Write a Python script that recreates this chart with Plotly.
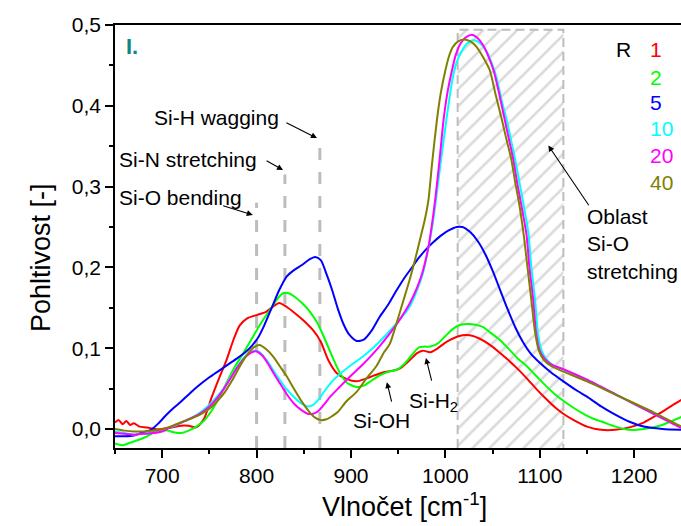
import plotly.graph_objects as go

# ---- IR absorbance spectra, one per ratio R ----
wn_r1 = [650, 654, 658, 662, 666, 670, 676, 684, 692, 700, 710, 720, 728, 736, 744, 752, 760, 768, 776,
         782, 790, 800, 810, 818, 824, 832, 840, 850, 860, 868, 876, 885, 895, 906, 915, 924, 934, 944,
         952, 962, 970, 976, 984, 992, 1000, 1008, 1018, 1026, 1036, 1046, 1056, 1066, 1076, 1086, 1096,
         1106, 1116, 1126, 1136, 1150, 1165, 1180, 1195, 1210, 1225, 1240, 1250]
abs_r1 = [0.008, 0.011, 0.006, 0.010, 0.005, 0.007, 0.003, 0.002, 0.000, 0.000, 0.002, 0.004, 0.004,
          0.002, 0.012, 0.038, 0.062, 0.085, 0.112, 0.128, 0.137, 0.141, 0.145, 0.152, 0.156, 0.151,
          0.144, 0.134, 0.122, 0.108, 0.085, 0.069, 0.062, 0.059, 0.062, 0.066, 0.070, 0.072, 0.075,
          0.085, 0.094, 0.097, 0.095, 0.100, 0.107, 0.112, 0.116, 0.116, 0.112, 0.105, 0.096, 0.086,
          0.075, 0.063, 0.050, 0.038, 0.027, 0.018, 0.011, 0.003, -0.001, -0.001, 0.002, 0.008, 0.018,
          0.029, 0.036]

wn_r2 = [650, 658, 666, 676, 684, 692, 700, 706, 712, 720, 728, 736, 744, 752, 760, 768, 776, 786, 794,
         800, 808, 814, 820, 828, 834, 840, 848, 856, 864, 872, 880, 888, 896, 906, 914, 922, 930, 940,
         948, 956, 964, 972, 978, 984, 992, 1000, 1008, 1016, 1024, 1032, 1040, 1048, 1058, 1068, 1076,
         1086, 1096, 1106, 1116, 1126, 1136, 1146, 1156, 1166, 1180, 1195, 1210, 1227, 1240, 1250]
abs_r2 = [-0.018, -0.020, -0.017, -0.013, -0.009, -0.004, -0.002, -0.002, -0.004, -0.005, -0.002,
          0.003, 0.010, 0.022, 0.038, 0.057, 0.075, 0.094, 0.110, 0.122, 0.137, 0.147, 0.158, 0.168,
          0.168, 0.164, 0.156, 0.146, 0.132, 0.112, 0.090, 0.070, 0.057, 0.052, 0.054, 0.060, 0.066,
          0.071, 0.073, 0.080, 0.091, 0.101, 0.102, 0.102, 0.106, 0.115, 0.124, 0.129, 0.130, 0.129,
          0.126, 0.119, 0.110, 0.098, 0.088, 0.078, 0.066, 0.054, 0.043, 0.034, 0.026, 0.019, 0.013,
          0.009, 0.003, -0.001, 0.000, 0.004, 0.010, 0.015]

wn_r5 = [650, 660, 670, 680, 688, 696, 704, 712, 720, 730, 740, 750, 760, 770, 780, 788, 795, 802,
         808, 816, 824, 832, 840, 848, 856, 862, 868, 874, 880, 886, 892, 898, 906, 914, 922, 930, 940,
         948, 956, 964, 972, 980, 988, 996, 1004, 1012, 1018, 1026, 1034, 1042, 1050, 1058, 1066, 1074,
         1082, 1090, 1100, 1112, 1125, 1140, 1150, 1165, 1178, 1195, 1210, 1230, 1250]
abs_r5 = [-0.009, -0.009, -0.008, -0.004, -0.001, 0.007, 0.017, 0.026, 0.034, 0.045, 0.055, 0.064,
          0.072, 0.080, 0.088, 0.095, 0.103, 0.114, 0.128, 0.150, 0.172, 0.189, 0.197, 0.203,
          0.210, 0.213, 0.209, 0.192, 0.172, 0.149, 0.130, 0.117, 0.109, 0.111, 0.122, 0.138, 0.155,
          0.171, 0.186, 0.199, 0.212, 0.223, 0.232, 0.240, 0.246, 0.250, 0.250, 0.244, 0.233, 0.217,
          0.196, 0.172, 0.148, 0.126, 0.108, 0.094, 0.082, 0.070, 0.059, 0.047, 0.040, 0.028, 0.019,
          0.009, 0.003, 0.000, -0.001]

wn_r10 = [650, 660, 670, 680, 690, 698, 706, 715, 724, 733, 742, 750, 758, 765, 772, 780, 788, 795, 800,
          806, 812, 818, 825, 832, 840, 848, 854, 860, 866, 872, 880, 890, 900, 913, 925, 940, 952, 962,
          970, 976, 981, 986, 990, 995, 1001, 1005, 1008, 1012, 1017, 1023, 1030, 1037, 1044, 1050, 1054,
          1060, 1065, 1070, 1074, 1078, 1082, 1088, 1091, 1095, 1098, 1102, 1106, 1114, 1125, 1150, 1185,
          1220, 1250]
abs_r10 = [-0.003, -0.005, -0.007, -0.006, -0.004, -0.003, 0.001, 0.005, 0.010, 0.015, 0.022, 0.030,
           0.040, 0.050, 0.063, 0.078, 0.090, 0.096, 0.097, 0.092, 0.083, 0.072, 0.060, 0.049, 0.039,
           0.031, 0.028, 0.030, 0.037, 0.047, 0.059, 0.070, 0.079, 0.090, 0.102, 0.120, 0.136, 0.151,
           0.172, 0.192, 0.218, 0.250, 0.283, 0.330, 0.382, 0.415, 0.436, 0.454, 0.467, 0.477, 0.481,
           0.477, 0.467, 0.450, 0.436, 0.405, 0.382, 0.355, 0.333, 0.308, 0.283, 0.242, 0.201, 0.160,
           0.119, 0.097, 0.088, 0.079, 0.0735, 0.061, 0.040, 0.019, 0.002]

wn_r20 = [650, 660, 670, 680, 690, 700, 710, 720, 730, 740, 750, 758, 765, 772, 780, 788, 795, 800, 806,
          812, 818, 825, 832, 840, 848, 854, 860, 866, 872, 878, 888, 899, 910, 920, 930, 941, 952, 962,
          970, 976, 982, 986, 990, 994, 998, 1002, 1007, 1011, 1016, 1022, 1028, 1034, 1040, 1046, 1051,
          1057, 1063, 1068, 1072, 1076, 1080, 1086, 1089, 1093, 1096, 1100, 1105, 1112, 1125, 1150, 1185,
          1220, 1250]
abs_r20 = [-0.005, -0.006, -0.007, -0.006, -0.005, -0.003, 0.003, 0.008, 0.013, 0.019, 0.028, 0.038,
           0.049, 0.062, 0.077, 0.089, 0.095, 0.096, 0.091, 0.081, 0.069, 0.056, 0.043, 0.031, 0.023,
           0.019, 0.019, 0.023, 0.031, 0.040, 0.052, 0.065, 0.077, 0.089, 0.102, 0.118, 0.136, 0.155,
           0.175, 0.195, 0.225, 0.255, 0.292, 0.335, 0.382, 0.415, 0.444, 0.463, 0.477, 0.485, 0.488,
           0.484, 0.475, 0.460, 0.444, 0.415, 0.382, 0.355, 0.333, 0.305, 0.280, 0.240, 0.200, 0.160,
           0.120, 0.097, 0.087, 0.080, 0.074, 0.061, 0.040, 0.019, 0.001]

wn_r40 = [650, 660, 670, 680, 690, 698, 706, 715, 724, 733, 742, 750, 758, 766, 774, 782, 790, 797, 803,
          810, 818, 825, 832, 840, 849, 856, 862, 868, 874, 880, 886, 895, 906, 916, 927, 935, 941, 948,
          955, 962, 968, 973, 978, 982, 986, 991, 995, 1000, 1004, 1008, 1014, 1020, 1026, 1033, 1040,
          1047, 1053, 1060, 1065, 1070, 1074, 1078, 1083, 1087, 1091, 1095, 1099, 1104, 1112, 1125, 1150,
          1185, 1220, 1250]
abs_r40 = [0.000, -0.002, -0.003, -0.003, -0.002, -0.001, 0.002, 0.006, 0.010, 0.014, 0.019, 0.025,
           0.034, 0.045, 0.060, 0.077, 0.092, 0.101, 0.104, 0.099, 0.089, 0.077, 0.065, 0.049, 0.032,
           0.021, 0.014, 0.011, 0.012, 0.016, 0.021, 0.034, 0.046, 0.062, 0.078, 0.095, 0.105, 0.130,
           0.157, 0.184, 0.210, 0.234, 0.258, 0.283, 0.330, 0.382, 0.415, 0.444, 0.462, 0.473, 0.480,
           0.482, 0.480, 0.473, 0.460, 0.444, 0.415, 0.382, 0.357, 0.333, 0.305, 0.280, 0.240, 0.200,
           0.160, 0.120, 0.097, 0.086, 0.078, 0.071, 0.059, 0.040, 0.021, 0.003]

series_names = ["1", "2", "5", "10", "20", "40"]
series_colors = ["#ff0000", "#00ff00", "#0000ff", "#00ffff", "#ff00ff", "#808000"]
series_wn = [wn_r1, wn_r2, wn_r5, wn_r10, wn_r20, wn_r40]
series_abs = [abs_r1, abs_r2, abs_r5, abs_r10, abs_r20, abs_r40]

# ---- axes ----
x_range = [650, 1249.6]
y_range = [-0.0235, 0.5]
x_tick_vals = [700, 800, 900, 1000, 1100, 1200]
x_minor_vals = [650, 750, 850, 950, 1050, 1150, 1250]
y_tick_vals = [0.0, 0.1, 0.2, 0.3, 0.4, 0.5]
y_tick_text = ["0,0", "0,1", "0,2", "0,3", "0,4", "0,5"]
y_minor_vals = [0.05, 0.15, 0.25, 0.35, 0.45]

# ---- band markers ----
band_positions = [800, 830, 867]
band_tops = [0.28, 0.315, 0.35]
stretch_lo, stretch_hi, stretch_top = 1013, 1125, 0.494

FONT = "Liberation Sans, Arial, sans-serif"
GREY = "#bdbdbd"

fig = go.Figure()

# hatched Si-O stretching region
fig.add_trace(go.Scatter(
    x=[stretch_lo, stretch_lo, stretch_hi, stretch_hi, stretch_lo],
    y=[y_range[0], stretch_top, stretch_top, y_range[0], y_range[0]],
    fill="toself", mode="none", fillcolor="rgba(0,0,0,0)",
    fillpattern=dict(shape="/", fgcolor="#b3b3b3", bgcolor="rgba(0,0,0,0)",
                     size=12, solidity=0.22, fillmode="overlay"),
    hoverinfo="skip", showlegend=False))
fig.add_trace(go.Scatter(
    x=[stretch_lo, stretch_lo, stretch_hi, stretch_hi],
    y=[y_range[0], stretch_top, stretch_top, y_range[0]],
    mode="lines", line=dict(color=GREY, width=2, dash="9px,5px"),
    hoverinfo="skip", showlegend=False))

# dashed band positions
for pos, top in zip(band_positions, band_tops):
    fig.add_trace(go.Scatter(
        x=[pos, pos], y=[y_range[0], top], mode="lines",
        line=dict(color=GREY, width=3, dash="12px,12px"),
        hoverinfo="skip", showlegend=False))

# spectra
for name, color, wn, ab in zip(series_names, series_colors, series_wn, series_abs):
    fig.add_trace(go.Scatter(
        x=wn, y=ab, mode="lines", name=name,
        line=dict(color=color, width=2, shape="spline", smoothing=0.7),
        showlegend=False))

annotations = []

def label(text, x, y, size=21, color="black", **kw):
    annotations.append(dict(text=text, x=x, y=y, xref="x", yref="y", showarrow=False,
                            font=dict(family=FONT, size=size, color=color), **kw))

def arrow(x_head, y_head, x_tail, y_tail):
    annotations.append(dict(text="", x=x_head, y=y_head, ax=x_tail, ay=y_tail,
                            xref="x", yref="y", axref="x", ayref="y",
                            showarrow=True, arrowhead=2, arrowsize=1.1, arrowwidth=1.1,
                            arrowcolor="black"))

# band labels with arrows
label("Si-H wagging", 758, 0.386)
arrow(864, 0.360, 830, 0.380)
label("Si-N stretching", 727, 0.334)
arrow(828, 0.3205, 809, 0.333)
label("Si-O bending", 719, 0.287)
arrow(796, 0.265, 763, 0.277)
label("Si-OH", 932, 0.010)
arrow(938, 0.058, 943.4, 0.032)
label("Si-H<sub>2</sub>", 987, 0.033)
arrow(979.4, 0.088, 985.8, 0.058)
label("Oblast<br>Si-O<br>stretching", 1148, 0.229, xanchor="left", align="left")
arrow(1109, 0.351, 1153, 0.275)

# panel label
label("<b>I.</b>", 667.5, 0.473, size=22, color="#138585")

# R legend as coloured text
label("R", 1189, 0.470)
legend_y = [0.470, 0.4356, 0.4047, 0.3725, 0.339, 0.3045]
for name, color, yy in zip(series_names, series_colors, legend_y):
    label(name, 1214.6, yy, color=color, xanchor="left")

# axis titles
annotations.append(dict(text="Pohltivost [-]", xref="paper", x=0, xshift=-91, yref="y", y=0.2116,
                        textangle=-90, showarrow=False, font=dict(family=FONT, size=27, color="black")))
annotations.append(dict(text="Vlnočet [cm<sup>-1</sup>]", xref="x", x=957, yref="paper", y=0,
                        yshift=-57, yanchor="middle", showarrow=False,
                        font=dict(family=FONT, size=27, color="black")))

axis_common = dict(showgrid=False, zeroline=False, showline=True, linecolor="black", linewidth=1.5,
                   ticks="outside", ticklen=8, tickwidth=1.5, tickcolor="black",
                   tickfont=dict(family=FONT, size=21, color="black"))

fig.update_layout(
    width=681, height=526,
    margin=dict(l=115, r=0, t=25, b=78),
    paper_bgcolor="white", plot_bgcolor="white",
    annotations=annotations,
    xaxis=dict(range=x_range, tickvals=x_tick_vals, mirror=True,
               minor=dict(tickvals=x_minor_vals, ticklen=4, tickwidth=1.5, tickcolor="black",
                          ticks="outside"),
               **axis_common),
    yaxis=dict(range=y_range, tickvals=y_tick_vals, ticktext=y_tick_text,
               minor=dict(tickvals=y_minor_vals, ticklen=4, tickwidth=1.5, tickcolor="black",
                          ticks="outside"),
               **axis_common),
)

fig.write_html("out.html")
